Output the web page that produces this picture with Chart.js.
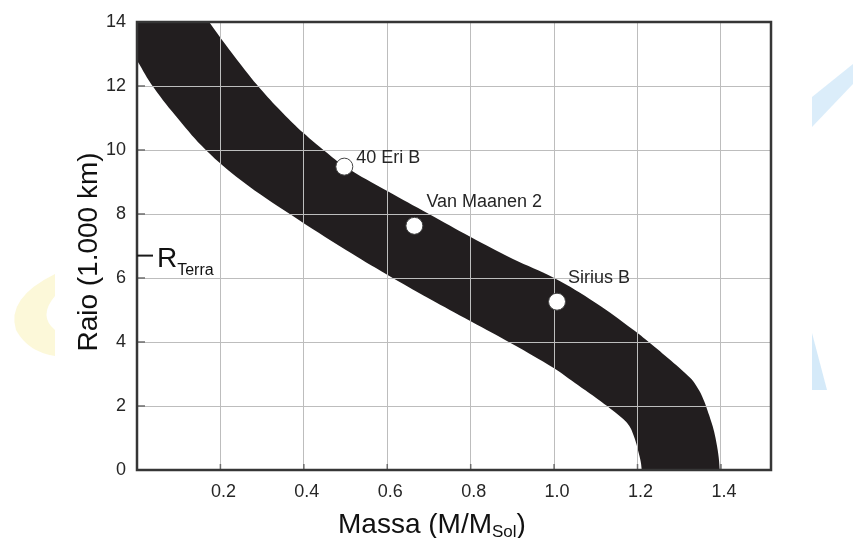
<!DOCTYPE html>
<html lang="pt">
<head>
<meta charset="utf-8">
<title>Anãs brancas: massa x raio</title>
<script src="https://cdn.jsdelivr.net/npm/chart.js@4.4.1/dist/chart.umd.min.js"></script>
<style>
  html, body { margin: 0; padding: 0; background: #ffffff; }
  canvas { display: block; }
</style>
</head>
<body>
<canvas id="massRadius" width="853" height="538"></canvas>
<script>
// ============================================
// Relação massa-raio das anãs brancas
// ============================================

// Borda superior da faixa (massa em M/MSol, raio em 1.000 km)
const upperMass = [0, 0.1, 0.173, 0.25, 0.3, 0.35, 0.4, 0.45, 0.5, 0.6, 0.7, 0.8, 0.9, 1.0, 1.1, 1.188, 1.229, 1.28, 1.326, 1.34, 1.355, 1.372, 1.387, 1.397, 1.402, 1.52];
const upperRadius = [17.6, 15.4, 14.0, 12.65, 11.85, 11.15, 10.52, 9.97, 9.47, 8.72, 8.0, 7.28, 6.6, 6.0, 5.22, 4.4, 3.98, 3.42, 2.88, 2.65, 2.3, 1.7, 1.0, 0, -3, -3];

// Borda inferior da faixa
const lowerMass = [0, 0.04, 0.1, 0.165, 0.25, 0.372, 0.5, 0.6, 0.7, 0.8, 0.9, 1.0, 1.05, 1.1, 1.14, 1.165, 1.18, 1.19, 1.2, 1.21, 1.213, 1.52];
const lowerRadius = [12.8, 11.95, 10.95, 10.0, 9.05, 7.95, 6.88, 6.1, 5.36, 4.65, 3.94, 3.18, 2.72, 2.26, 1.87, 1.6, 1.38, 1.1, 0.68, 0, -3, -3];

// Estrelas observadas
const starNames = ['40 Eri B', 'Van Maanen 2', 'Sirius B'];
const starMass = [0.497, 0.665, 1.007];
const starRadius = [9.48, 7.63, 5.26];

// Raio da Terra (marca no eixo)
const earthRadius = 6.7;

const xTicks = [0.2, 0.4, 0.6, 0.8, 1.0, 1.2, 1.4];
const yTicks = [0, 2, 4, 6, 8, 10, 12, 14];

const FONT = "'Liberation Sans', Arial, Helvetica, sans-serif";
const INK = '#262626';
const BAND = '#221e1f';

const toPoints = (xs, ys) => xs.map((x, i) => ({ x, y: ys[i] }));

// rótulos das estrelas: deslocamento em px a partir do ponto
const starLabelOffset = [[12, -4], [12, -19], [11, -19]];

function drawParts(ctx, parts, x, y) {
  parts.forEach(([text, size, dy]) => {
    ctx.font = `${size}px ${FONT}`;
    ctx.fillText(text, x, y + dy);
    x += ctx.measureText(text).width;
  });
}

const decor = {
  id: 'decor',
  beforeDraw(chart) {
    const ctx = chart.ctx;
    ctx.save();
    // marcas d'água do fundo
    ctx.fillStyle = 'rgba(250, 242, 180, 0.5)';
    ctx.beginPath();
    ctx.moveTo(55, 274);
    ctx.quadraticCurveTo(6, 298, 16, 330);
    ctx.quadraticCurveTo(28, 352, 55, 356);
    ctx.lineTo(55, 330);
    ctx.quadraticCurveTo(38, 316, 55, 296);
    ctx.closePath();
    ctx.fill();

    ctx.fillStyle = 'rgba(195, 225, 247, 0.6)';
    ctx.beginPath();
    ctx.moveTo(812, 97);
    ctx.lineTo(853, 64);
    ctx.lineTo(853, 84);
    ctx.lineTo(812, 127);
    ctx.closePath();
    ctx.fill();
    ctx.fillStyle = 'rgba(195, 225, 247, 0.7)';
    ctx.beginPath();
    ctx.moveTo(812, 333);
    ctx.lineTo(827, 390);
    ctx.lineTo(812, 390);
    ctx.closePath();
    ctx.fill();
    ctx.restore();
  },
  afterDraw(chart) {
    const { ctx, chartArea: a, scales } = chart;
    ctx.save();

    // marcas internas dos eixos
    ctx.strokeStyle = '#6e6e6e';
    ctx.lineWidth = 1.5;
    ctx.beginPath();
    xTicks.forEach(v => {
      const px = scales.x.getPixelForValue(v);
      ctx.moveTo(px, a.bottom);
      ctx.lineTo(px, a.bottom - 6);
    });
    yTicks.forEach(v => {
      const py = scales.y.getPixelForValue(v);
      ctx.moveTo(a.left, py);
      ctx.lineTo(a.left + 8, py);
    });
    ctx.stroke();

    // moldura
    ctx.strokeStyle = '#363636';
    ctx.lineWidth = 2.5;
    ctx.strokeRect(a.left, a.top, a.right - a.left, a.bottom - a.top);

    // R Terra
    const ey = scales.y.getPixelForValue(earthRadius);
    ctx.strokeStyle = '#1a1a1a';
    ctx.lineWidth = 2;
    ctx.beginPath();
    ctx.moveTo(a.left, ey);
    ctx.lineTo(a.left + 16, ey);
    ctx.stroke();
    ctx.fillStyle = '#111';
    ctx.textBaseline = 'alphabetic';
    ctx.textAlign = 'left';
    drawParts(ctx, [['R', 28, 0], ['Terra', 16, 8]], a.left + 20, ey + 11.5);

    // nomes das estrelas
    ctx.fillStyle = INK;
    ctx.font = `18px ${FONT}`;
    chart.getDatasetMeta(0).data.forEach((pt, i) => {
      const [dx, dy] = starLabelOffset[i];
      ctx.fillText(starNames[i], pt.x + dx, pt.y + dy);
    });

    // título do eixo x
    ctx.fillStyle = '#111';
    drawParts(ctx, [['Massa (M/M', 28, 0], ['Sol', 17, 4], [')', 28, 0]], 338, 533);

    // título do eixo y
    ctx.translate(97, (a.top + a.bottom) / 2 + 6);
    ctx.rotate(-Math.PI / 2);
    ctx.textAlign = 'center';
    ctx.font = `28px ${FONT}`;
    ctx.fillText('Raio (1.000 km)', 0, 0);

    ctx.restore();
  }
};

new Chart(document.getElementById('massRadius'), {
  type: 'line',
  data: {
    datasets: [
      {
        label: 'Estrelas',
        data: toPoints(starMass, starRadius),
        showLine: false,
        pointRadius: 8.5,
        pointBackgroundColor: '#ffffff',
        pointBorderColor: '#444444',
        pointBorderWidth: 1,
      },
      {
        label: 'Limite superior',
        data: toPoints(upperMass, upperRadius),
        borderWidth: 0,
        borderColor: BAND,
        backgroundColor: BAND,
        pointRadius: 0,
        tension: 0.4,
        fill: '+1',
      },
      {
        label: 'Limite inferior',
        data: toPoints(lowerMass, lowerRadius),
        borderWidth: 0,
        borderColor: BAND,
        pointRadius: 0,
        tension: 0.4,
        fill: false,
      },
    ],
  },
  options: {
    responsive: false,
    animation: false,
    layout: { padding: { left: 0, top: 22, right: 82, bottom: 0 } },
    elements: { line: { capBezierPoints: false } },
    plugins: {
      legend: { display: false },
      tooltip: { enabled: false },
      filler: { drawTime: 'beforeDraw' },
    },
    scales: {
      x: {
        type: 'linear',
        min: 0,
        max: 1.52,
        afterBuildTicks: (scale) => { scale.ticks = xTicks.map(value => ({ value })); },
        afterFit: (scale) => { scale.height = 68; },
        grid: { color: '#bdbdbd', lineWidth: 1, drawTicks: false },
        border: { display: false },
        ticks: {
          padding: 11,
          labelOffset: 3,
          maxRotation: 0,
          autoSkip: false,
          font: { family: FONT, size: 18 },
          color: INK,
          callback: (v) => Number(v).toFixed(1),
        },
      },
      y: {
        type: 'linear',
        min: 0,
        max: 14,
        afterBuildTicks: (scale) => { scale.ticks = yTicks.map(value => ({ value })); },
        afterFit: (scale) => { scale.width = 137; },
        grid: { color: '#bdbdbd', lineWidth: 1, drawTicks: false },
        border: { display: false },
        ticks: {
          padding: 11,
          autoSkip: false,
          font: { family: FONT, size: 18 },
          color: INK,
          callback: (v) => String(v),
        },
      },
    },
  },
  plugins: [decor],
});
</script>
</body>
</html>
